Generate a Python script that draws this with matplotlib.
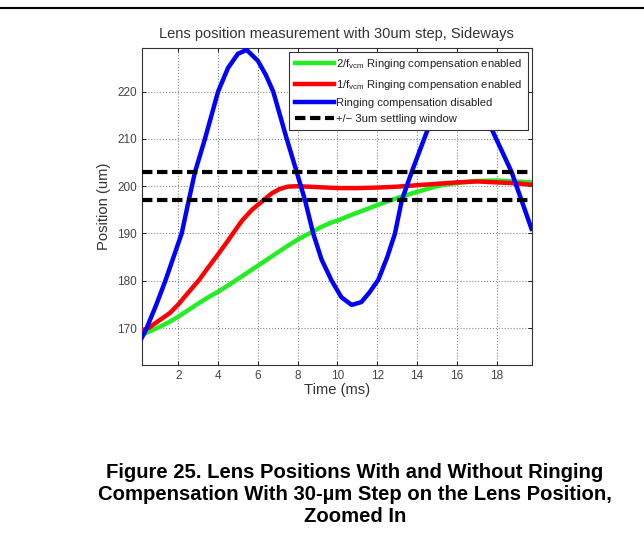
import matplotlib
matplotlib.use("Agg")
import matplotlib.pyplot as plt

plt.rcParams['font.family'] = ['Liberation Sans', 'DejaVu Sans']

# ---- data ----
t_blue = [0.16, 0.41, 0.9, 1.35, 1.8, 2.17, 2.5, 2.84, 3.34, 4.0, 4.5, 5.0, 5.44,
          6.0, 6.4, 6.77, 7.45, 7.95, 8.37, 8.78, 9.2, 9.71, 10.2, 10.71, 11.2,
          11.6, 12.05, 12.5, 12.89, 13.23, 13.73, 14.5, 15.2, 16.0, 16.8, 17.4,
          17.8, 18.75, 19.25, 19.75]
y_blue = [167.9, 170.0, 175.0, 180.0, 185.5, 190.0, 196.5, 203.0, 210.0, 220.0,
          225.0, 228.0, 228.8, 226.5, 223.5, 220.0, 210.0, 203.0, 197.0, 190.0,
          184.5, 180.0, 176.5, 174.9, 175.5, 177.5, 180.2, 185.0, 190.0, 197.0,
          203.0, 211.6, 218.0, 222.0, 220.0, 215.0, 211.6, 203.0, 197.0, 191.0]

t_red = [0.16, 0.5, 1.0, 1.58, 2.0, 2.5, 3.05, 3.5, 4.0, 4.5, 4.76, 5.2, 5.7,
         6.27, 6.7, 7.1, 7.5, 8.0, 9.0, 10.0, 11.0, 12.0, 13.0, 14.0, 15.0,
         16.0, 17.0, 18.0, 19.0, 19.75]
y_red = [169.5, 170.0, 171.5, 173.2, 175.0, 177.5, 180.2, 182.8, 185.6, 188.5,
         190.1, 192.7, 195.0, 197.0, 198.5, 199.4, 199.9, 200.0, 199.8, 199.6,
         199.6, 199.7, 199.9, 200.2, 200.5, 200.8, 201.0, 200.8, 200.6, 200.3]

t_green = [0.16, 0.5, 1.08, 1.5, 1.92, 2.5, 3.0, 3.5, 4.0, 4.5, 4.93, 5.5, 6.0,
           6.5, 7.0, 7.5, 8.0, 8.62, 9.2, 9.62, 10.12, 10.5, 11.0, 11.5, 12.0,
           12.5, 13.23, 14.0, 14.5, 15.0, 15.5, 16.3, 17.0, 18.0, 19.0, 19.75]
y_green = [168.5, 169.2, 170.3, 171.2, 172.2, 173.8, 175.2, 176.5, 177.7, 179.0,
           180.2, 181.8, 183.2, 184.6, 186.0, 187.4, 188.7, 190.1, 191.4, 192.2,
           192.9, 193.6, 194.4, 195.2, 196.0, 196.8, 197.8, 198.8, 199.4, 200.0,
           200.4, 200.8, 201.1, 201.2, 201.0, 200.8]

settle_levels = [203, 197]

labels = [r"2/f$_\mathregular{vcm}$ Ringing compensation enabled",
          r"1/f$_\mathregular{vcm}$ Ringing compensation enabled",
          "Ringing compensation disabled",
          "+/\u2212 3um settling window"]

x_ticks = [2, 4, 6, 8, 10, 12, 14, 16, 18]
y_ticks = [170, 180, 190, 200, 210, 220]

# ---- figure ----
fig = plt.figure(figsize=(6.44, 5.47), dpi=100)
fig.patch.set_facecolor('white')

# top rule
fig.add_artist(plt.Line2D([0, 1], [1 - 7.5 / 547, 1 - 7.5 / 547],
                          color='black', lw=1.5, transform=fig.transFigure))

ax = fig.add_axes([0.220, 0.3327, 0.6056, 0.5795])

ax.plot(t_green, y_green, color='#22ee22', lw=3.2, label=labels[0], zorder=3)
ax.plot(t_red, y_red, color='#ff0000', lw=3.2, label=labels[1], zorder=4)
ax.plot(t_blue, y_blue, color='#0000ff', lw=3.2, label=labels[2], zorder=5)
for i, lvl in enumerate(settle_levels):
    ax.axhline(lvl, color='black', lw=3.0, ls=(0, (2.5, 1.1)),
               label=labels[3] if i == 0 else None, zorder=6)

ax.set_xlim(0.16, 19.76)
ax.set_ylim(162.2, 229.2)
ax.set_xticks(x_ticks)
ax.set_yticks(y_ticks)
ax.tick_params(direction='in', top=True, right=True, labelsize=8.5,
               labelcolor='#444444', length=3, width=0.6)
ax.grid(True, ls=':', color='#888888', lw=0.8)
for s in ax.spines.values():
    s.set_linewidth(0.8)
    s.set_color('#333333')

ax.set_xlabel("Time (ms)", fontsize=10.6, color='#333333', labelpad=1)
ax.set_ylabel("Position (um)", fontsize=10.6, color='#333333', labelpad=4)
ax.set_title("Lens position measurement with 30um step, Sideways",
             fontsize=10.5, color='#333333', pad=7)

leg = ax.legend(loc='upper right', fontsize=8.1, frameon=True, fancybox=False,
                framealpha=1.0, borderaxespad=0.33, handlelength=3.5,
                handletextpad=0.15, labelspacing=0.55, borderpad=0.5)
leg.get_frame().set_edgecolor('#333333')
leg.get_frame().set_linewidth(0.8)
leg.set_zorder(10)
for txt in leg.get_texts():
    txt.set_color('#222222')

caption = ("Figure 25. Lens Positions With and Without Ringing\n"
           "Compensation With 30-\u00b5m Step on the Lens Position,\n"
           "Zoomed In")
fig.text(0.551, 1 - 495 / 547, caption, ha='center', va='center',
         fontsize=14.6, fontweight='bold', linespacing=1.2, color='black')

fig.savefig("out.png", dpi=100, facecolor='white')
